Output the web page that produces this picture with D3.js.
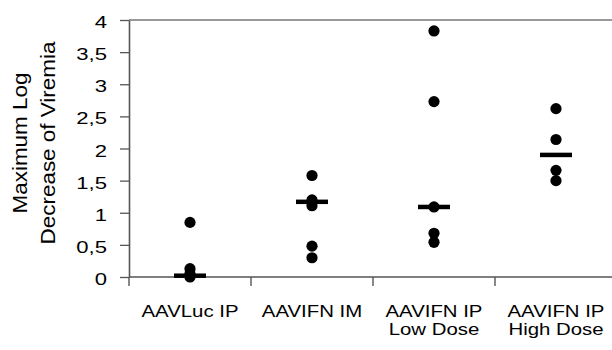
<!DOCTYPE html>
<html lang="en">
<head>
<meta charset="utf-8">
<title>Maximum Log Decrease of Viremia</title>
<script src="https://d3js.org/d3.v7.min.js"></script>
<style>
  body { margin: 0; background: #fff; }
  text { font-family: "Liberation Sans", Arial, sans-serif; fill: #000; }
</style>
</head>
<body>
<div id="chart"></div>
<script>
  // groups (two-line labels) and the values
  var groups = ["AAVLuc IP", "AAVIFN IM", "AAVIFN IP", "AAVIFN IP"];
  var groupSub = ["", "", "Low Dose", "High Dose"];
  var lucIP = [0.85, 0.13, 0.05, 0.01, 0.0];
  var ifnIM = [1.58, 1.2, 1.11, 0.48, 0.3];
  var ifnIPLow = [3.83, 2.73, 1.09, 0.68, 0.54];
  var ifnIPHigh = [2.62, 2.14, 1.66, 1.5];
  var medians = [0.02, 1.17, 1.09, 1.9];
  var yTicks = [0, 0.5, 1, 1.5, 2, 2.5, 3, 3.5, 4];

  var series = [lucIP, ifnIM, ifnIPLow, ifnIPHigh];

  var width = 612, height = 350;
  var plotLeft = 129, plotTop = 20, plotBottom = 277;

  var svg = d3.select("#chart").append("svg")
    .attr("width", width)
    .attr("height", height);

  // x spans four equal categories, the last one runs past the right edge
  var x = d3.scaleBand()
    .domain(d3.range(groups.length))
    .range([plotLeft, 617]);

  var y = d3.scaleLinear()
    .domain([0, 4])
    .range([plotBottom, plotTop]);

  // top frame line
  svg.append("line")
    .attr("x1", plotLeft).attr("x2", width)
    .attr("y1", plotTop).attr("y2", plotTop)
    .style("stroke", "#777").style("stroke-width", 1.3);

  // y axis
  var yAxis = svg.append("g")
    .attr("transform", "translate(" + plotLeft + ",0)")
    .call(d3.axisLeft(y).tickValues(yTicks).tickSize(9).tickSizeOuter(0)
      .tickFormat(function(d) { return String(d).replace(".", ","); }));
  yAxis.select(".domain").style("stroke", "#555").style("stroke-width", 1.6);
  yAxis.selectAll(".tick line").style("stroke", "#555").style("stroke-width", 1.3);
  yAxis.selectAll(".tick text")
    .attr("x", 0).attr("dy", null)
    .attr("transform", "translate(-22,7.5) scale(1.3,1)")
    .style("font-size", "17px")
    .style("font-family", "'Liberation Sans', Arial, sans-serif");

  // x axis with ticks on category boundaries
  var bounds = d3.range(groups.length + 1).map(function(i) { return plotLeft + i * x.bandwidth(); });
  svg.append("line")
    .attr("x1", plotLeft).attr("x2", width)
    .attr("y1", plotBottom).attr("y2", plotBottom)
    .style("stroke", "#555").style("stroke-width", 1.6);
  svg.selectAll(".xtick")
    .data(bounds)
    .enter().append("line")
    .attr("class", "xtick")
    .attr("x1", function(d) { return d; }).attr("x2", function(d) { return d; })
    .attr("y1", plotBottom).attr("y2", plotBottom + 9)
    .style("stroke", "#555").style("stroke-width", 1.4);

  var labels = svg.selectAll(".xlab")
    .data(groups)
    .enter().append("text")
    .attr("class", "xlab")
    .attr("transform", function(d, i) {
      return "translate(" + (x(i) + x.bandwidth() / 2) + "," + 317 + ") scale(1.25,1)";
    })
    .attr("text-anchor", "middle")
    .style("font-size", "16.3px");
  labels.append("tspan").attr("x", 0).attr("y", 0).text(function(d) { return d; });
  labels.append("tspan").attr("x", 0).attr("y", 18).text(function(d, i) { return groupSub[i]; });

  // y axis title
  var title = svg.append("text")
    .attr("transform", "translate(27,143) rotate(-90) scale(1.07,1)")
    .attr("text-anchor", "middle")
    .style("font-size", "21px");
  title.append("tspan").attr("x", 0).attr("y", 0).text("Maximum Log");
  title.append("tspan").attr("x", 0).attr("y", 28).text("Decrease of Viremia");

  // points
  var groupG = svg.selectAll(".grp")
    .data(series)
    .enter().append("g")
    .attr("class", "grp")
    .attr("transform", function(d, i) { return "translate(" + (x(i) + x.bandwidth() / 2) + ",0)"; });

  groupG.selectAll("circle")
    .data(function(d) { return d; })
    .enter().append("circle")
    .attr("cx", 0)
    .attr("cy", function(d) { return y(d); })
    .attr("r", 5.6)
    .style("fill", "#000");

  // median bars
  groupG.append("line")
    .attr("x1", -16).attr("x2", 16)
    .attr("y1", function(d, i) { return y(medians[i]); })
    .attr("y2", function(d, i) { return y(medians[i]); })
    .style("stroke", "#000").style("stroke-width", 4.5);
</script>
</body>
</html>
